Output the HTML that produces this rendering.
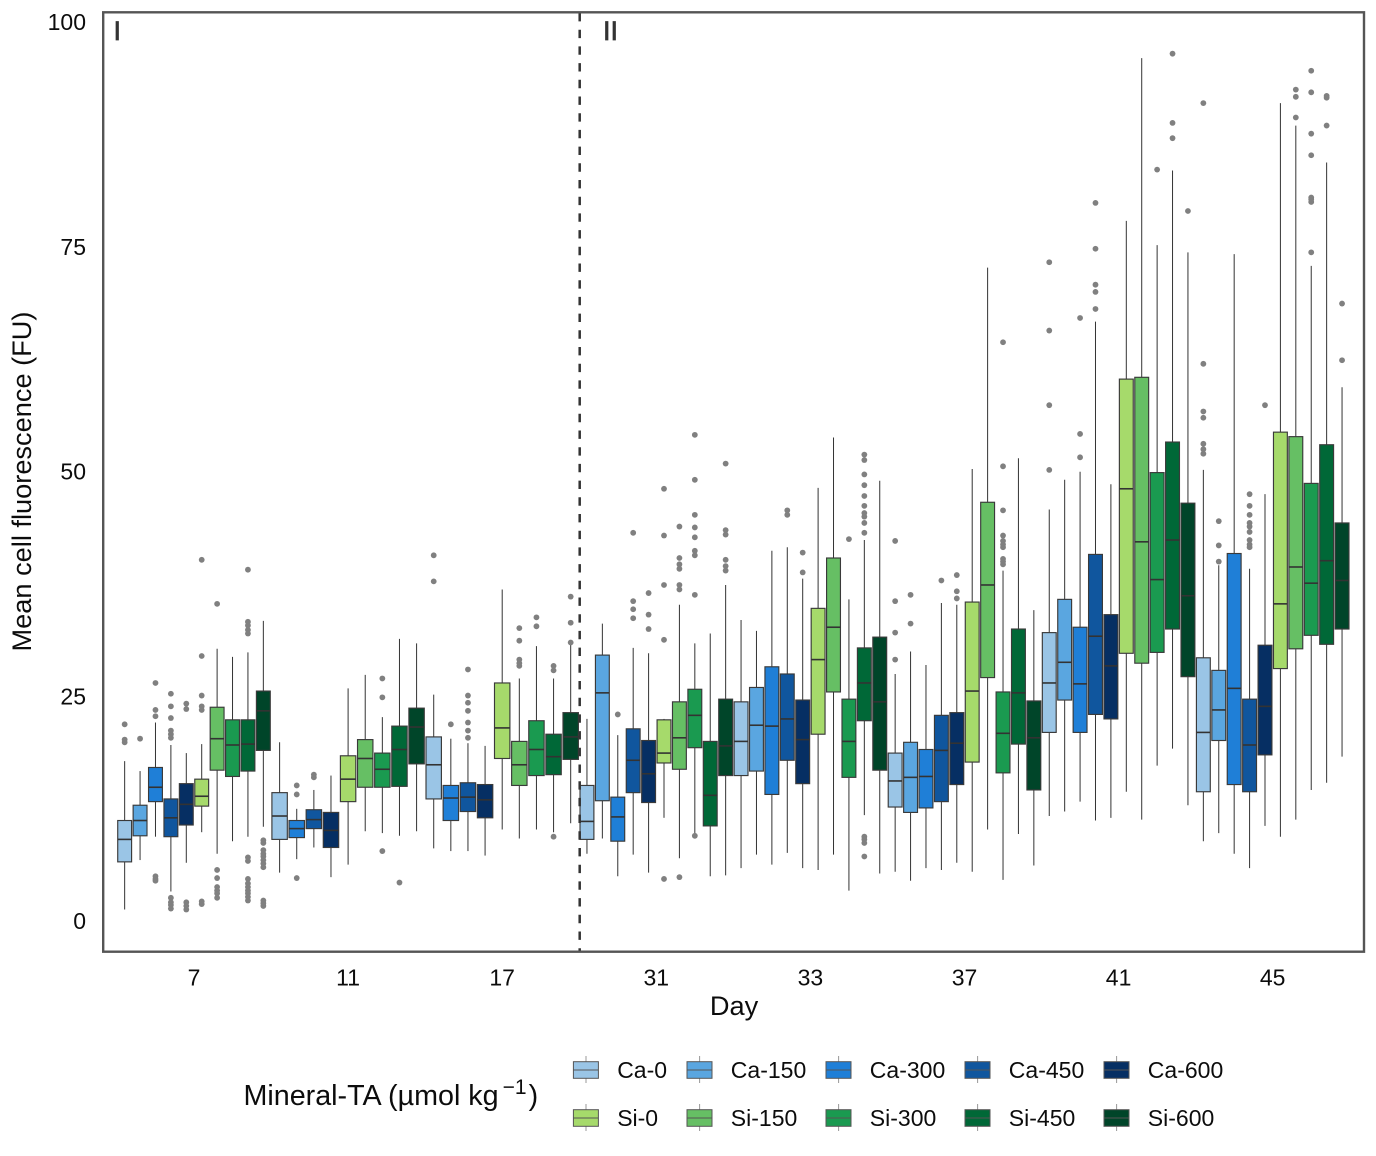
<!DOCTYPE html>
<html lang="en">
<head>
<meta charset="utf-8">
<title>Mean cell fluorescence by day and mineral-TA treatment</title>
<style>
  html, body { margin: 0; padding: 0; background: #ffffff; }
  svg { display: block; font-family: "Liberation Sans", Arial, sans-serif; }
  text { fill: #0c0c0c; }
</style>
</head>
<body>
<svg id="chart" xmlns="http://www.w3.org/2000/svg" width="1376" height="1156" viewBox="0 0 1376 1156">
  <rect x="0" y="0" width="1376" height="1156" fill="#ffffff"/>
  <g id="marks"></g>
  <line x1="579.7" y1="13" x2="579.7" y2="951" stroke="#333333" stroke-width="2.5" stroke-dasharray="8.4 8.3"/>
  <rect x="103.2" y="12.3" width="1260.8" height="939.4" fill="none" stroke="#555555" stroke-width="2.4"/>
  <text x="113.5" y="40" font-size="27" style="fill:#333333;stroke:#333333;stroke-width:0.7">I</text>
  <text x="603" y="40" font-size="27" style="fill:#333333;stroke:#333333;stroke-width:0.7">II</text>
  <g id="y-ticks"></g>
  <g id="x-ticks"></g>
  <text x="734" y="1015" font-size="27.2" text-anchor="middle">Day</text>
  <text transform="translate(31 481.5) rotate(-90)" font-size="27.2" text-anchor="middle">Mean cell fluorescence (FU)</text>
  <text x="243.5" y="1105" font-size="28.7">Mineral-TA (µmol kg<tspan dx="4" dy="-11" font-size="21">−1</tspan><tspan dx="2" dy="11">)</tspan></text>
  <g id="legend"></g>
</svg>
<script>
const categories = ["7", "11", "17", "31", "33", "37", "41", "45"];
const seriesNames = ["Ca-0", "Ca-150", "Ca-300", "Ca-450", "Ca-600", "Si-0", "Si-150", "Si-300", "Si-450", "Si-600"];
const yTickValues = [0, 25, 50, 75, 100];

const q3Values = [
  [11.2, 12.9, 17.1, 13.6, 15.3, 15.8, 23.8, 22.4, 22.4, 25.6],
  [14.3, null, 11.2, 12.4, 12.1, 18.4, 20.2, 18.7, 21.7, 23.7],
  [20.5, null, 15.1, 15.4, 15.2, 26.5, 20.0, 22.3, 20.8, 23.2],
  [15.1, 29.6, 13.8, 21.4, 20.1, 22.4, 24.4, 25.8, 20.0, 24.7],
  [24.4, 26.0, 28.3, 27.5, 24.6, 34.8, 40.4, 24.7, 30.4, 31.6],
  [18.7, 19.9, 19.1, 22.9, 23.2, 35.5, 46.6, 25.5, 32.5, 24.5],
  [32.1, 35.8, 32.7, 40.8, 34.1, 60.3, 60.5, 49.9, 53.3, 46.5],
  [29.3, 27.9, 40.9, 24.7, 30.7, 54.4, 53.9, 48.7, 53.0, 44.3]
];
const q1Values = [
  [6.6, 9.5, 13.3, 9.4, 10.7, 12.8, 16.8, 16.1, 16.7, 19.0],
  [9.1, null, 9.3, 10.3, 8.2, 13.3, 14.9, 14.9, 15.0, 17.5],
  [13.6, null, 11.2, 12.2, 11.5, 18.1, 15.1, 16.2, 16.3, 18.0],
  [9.1, 13.4, 8.9, 14.3, 13.2, 17.6, 16.9, 19.3, 10.6, 16.2],
  [16.2, 16.7, 14.1, 17.9, 15.3, 20.8, 25.5, 16.0, 22.3, 16.8],
  [12.7, 12.1, 12.6, 13.3, 15.2, 17.7, 27.1, 16.5, 19.7, 14.6],
  [21.0, 24.6, 21.0, 23.0, 22.5, 29.8, 28.7, 29.9, 32.5, 27.2],
  [14.4, 20.1, 15.2, 14.4, 18.5, 28.1, 30.3, 31.8, 30.8, 32.5]
];
const medianValues = [
  [9.1, 11.2, 14.9, 11.5, 13.0, 13.9, 20.3, 19.6, 19.7, 23.4],
  [11.7, null, 10.3, 11.3, 10.1, 15.8, 18.1, 16.9, 19.1, 21.6],
  [17.4, null, 13.7, 13.8, 13.5, 21.5, 17.4, 19.1, 18.3, 20.5],
  [11.1, 25.4, 11.6, 17.9, 16.4, 18.7, 20.4, 22.9, 14.0, 19.5],
  [20.0, 21.8, 21.7, 22.5, 20.2, 29.1, 32.7, 20.0, 26.5, 24.4],
  [15.6, 16.0, 16.1, 19.0, 19.8, 25.6, 37.4, 20.9, 25.4, 20.4],
  [26.5, 28.8, 26.4, 31.7, 28.4, 48.1, 42.2, 38.0, 42.4, 36.2],
  [21.0, 23.5, 25.9, 19.6, 23.9, 35.3, 39.4, 37.6, 40.1, 37.9]
];
const upperWhiskerValues = [
  [17.8, 16.7, 22.1, 19.6, 18.7, 19.7, 30.3, 29.4, 29.9, 33.4],
  [19.9, null, 12.5, 14.6, 16.2, 25.9, 27.4, 22.7, 31.4, 30.9],
  [25.2, null, 20.3, 19.8, 19.5, 36.9, 27.0, 30.6, 27.0, 31.0],
  [22.5, 33.1, 20.7, 30.4, 29.8, 22.5, 35.2, 30.9, 32.0, 37.4],
  [33.5, 32.3, 41.2, 41.6, 38.1, 48.2, 53.8, 35.8, 42.4, 49.0],
  [27.5, 30.0, 28.5, 35.4, 35.2, 50.3, 72.7, 39.0, 51.5, 34.6],
  [45.8, 49.1, 50.0, 66.7, 48.6, 77.9, 96.0, 75.2, 83.5, 74.4],
  [50.2, 39.6, 74.2, 39.2, 47.5, 91.0, 88.5, 72.9, 84.4, 59.4]
];
const lowerWhiskerValues = [
  [1.3, 6.8, 9.4, 3.3, 6.5, 9.9, 7.5, 8.9, 9.4, 10.5],
  [5.4, null, 6.9, 8.2, 4.9, 6.3, 10.0, 9.8, 9.5, 10.0],
  [8.1, null, 7.8, 7.8, 7.3, 10.2, 9.2, 10.2, 9.9, 10.9],
  [7.5, 9.2, 5.0, 7.4, 5.4, 11.5, 7.0, 9.8, 5.0, 5.1],
  [5.9, 7.4, 6.3, 7.6, 5.9, 5.7, 7.4, 3.4, 11.8, 5.3],
  [5.5, 4.5, 5.9, 5.7, 6.5, 5.5, 10.2, 4.6, 9.7, 6.2],
  [11.7, 12.2, 13.3, 11.2, 11.5, 14.4, 11.3, 17.3, 19.2, 12.9],
  [8.9, 9.8, 7.5, 5.9, 10.6, 9.4, 11.3, 14.6, 15.4, 18.3]
];
const outlierValues = [
  [
    [21.9, 20.2, 19.9],
    [20.3],
    [26.5, 23.5, 22.8, 5.0, 4.7, 4.5],
    [25.3, 23.9, 22.6, 21.2, 20.8, 20.4, 2.6, 2.1, 1.8, 1.4],
    [24.2, 23.6, 2.1, 1.7, 1.3],
    [40.2, 29.5, 25.1, 23.9, 23.5, 2.2, 1.9],
    [35.3, 5.7, 4.8, 3.8, 3.4, 3.1, 2.6],
    [],
    [39.1, 33.3, 32.9, 32.4, 32.0, 7.1, 6.7, 4.7, 4.2, 3.8, 3.4, 3.1, 2.7, 2.3],
    [9.0, 8.7, 7.9, 7.5, 7.2, 6.8, 6.4, 6.0, 2.3, 2.0, 1.7]
  ],
  [
    [],
    [],
    [15.1, 14.1, 4.8],
    [16.3, 16.0],
    [],
    [],
    [],
    [27.0, 24.9, 7.8],
    [4.3],
    []
  ],
  [
    [40.7, 37.8],
    [],
    [21.9],
    [28.0, 25.1, 24.3, 23.4, 22.1, 21.2, 20.4],
    [],
    [],
    [32.6, 31.2, 29.1, 28.7, 28.4],
    [33.8, 32.8],
    [28.4, 27.9, 9.4],
    [36.1, 33.2, 31.0]
  ],
  [
    [],
    [],
    [23.0],
    [43.2, 35.6, 34.7, 33.7],
    [36.5, 34.1, 32.5],
    [48.1, 42.9, 37.4, 31.3, 4.7],
    [43.9, 40.4, 39.7, 39.2, 37.4, 36.9, 4.9],
    [54.1, 49.1, 45.2, 43.8, 42.7, 41.2, 40.7, 36.3, 9.5],
    [],
    [50.9, 43.5, 43.0, 40.2, 39.5, 39.0]
  ],
  [
    [],
    [],
    [],
    [45.7, 45.2],
    [41.0, 38.8],
    [],
    [],
    [42.5],
    [51.9, 51.3, 49.7, 48.5, 47.3, 46.2, 45.4, 45.0, 44.3, 43.2, 9.4, 9.1, 8.7, 7.2],
    []
  ],
  [
    [42.3, 35.6, 32.1, 29.1],
    [36.3, 33.1],
    [],
    [37.9],
    [38.5, 36.7, 35.9],
    [],
    [],
    [64.4, 50.6, 45.7, 42.9, 42.3, 41.9, 41.6, 40.3, 40.0, 39.7],
    [],
    []
  ],
  [
    [73.3, 65.7, 57.4, 50.2],
    [],
    [67.1, 54.2, 51.6],
    [79.9, 74.8, 70.8, 70.0, 68.1],
    [],
    [],
    [],
    [83.6],
    [96.5, 88.8, 87.1],
    [79.0]
  ],
  [
    [91.0, 62.0, 56.7, 56.0, 53.1, 52.5, 52.0],
    [44.5, 41.8, 40.0],
    [],
    [47.5, 46.2, 45.2, 44.3, 43.9, 43.3, 42.4, 41.9, 41.6],
    [57.4],
    [],
    [92.5, 91.7, 89.4],
    [94.6, 92.2, 87.6, 85.2, 80.5, 80.3, 80.0, 74.4],
    [91.8, 91.6, 88.5],
    [68.7, 62.4]
  ]
];

const seriesColors = ["#9AC5E6", "#5AA6E0", "#1F7FD7", "#10569E", "#062F63", "#A6DA6B", "#66BF64", "#1A9A50", "#006837", "#004529"];
const SVG_NS = "http://www.w3.org/2000/svg";
const BAND = 154.1;
const FIRST_CENTER = 194;

function yScale(v) { return 921.2 - 8.99 * v; }
function xBand(i) { return FIRST_CENTER + i * BAND; }
function create(tag, attrs) {
  const el = document.createElementNS(SVG_NS, tag);
  for (const k in attrs) el.setAttribute(k, attrs[k]);
  return el;
}

const marks = document.getElementById("marks");
categories.forEach(function (day, d) {
  const present = [];
  seriesNames.forEach(function (name, s) {
    if (q1Values[d][s] !== null) present.push(s);
  });
  const step = BAND / present.length;
  const boxWidth = step * 0.9;
  present.forEach(function (s, pos) {
    const cx = xBand(d) + (pos - (present.length - 1) / 2) * step;
    const group = create("g", {});
    
    

    const whisker = create("line", {
      x1: cx, x2: cx,
      y1: yScale(upperWhiskerValues[d][s]), y2: yScale(lowerWhiskerValues[d][s]),
      stroke: "#333333", "stroke-width": 1
    });
    
    
    group.appendChild(whisker);

    const top = yScale(q3Values[d][s]);
    const bottom = yScale(q1Values[d][s]);
    const box = create("rect", {
      x: cx - boxWidth / 2, y: top, width: boxWidth, height: bottom - top,
      fill: seriesColors[s], stroke: "#3a3a3a", "stroke-width": 1.15
    });
    
    
    group.appendChild(box);

    const median = create("line", {
      x1: cx - boxWidth / 2, x2: cx + boxWidth / 2,
      y1: yScale(medianValues[d][s]), y2: yScale(medianValues[d][s]),
      stroke: "#333333", "stroke-width": 1.6
    });
    
    
    group.appendChild(median);

    outlierValues[d][s].forEach(function (v) {
      const dot = create("circle", { cx: cx, cy: yScale(v), r: 2.9, fill: "#808080" });
      
      
      group.appendChild(dot);
    });
    marks.appendChild(group);
  });
});

const yTicks = document.getElementById("y-ticks");
yTickValues.forEach(function (v) {
  const t = create("text", { x: 86, y: yScale(v) + 8, "font-size": 23, "text-anchor": "end" });
  
  
  t.textContent = String(v);
  yTicks.appendChild(t);
});

const xTicks = document.getElementById("x-ticks");
categories.forEach(function (day, d) {
  const t = create("text", { x: xBand(d), y: 985.5, "font-size": 23, "text-anchor": "middle" });
  
  
  t.textContent = day;
  xTicks.appendChild(t);
});

const legendColumns = [573.4, 687, 826, 965, 1104];
const legendRows = [1070, 1118];
const legend = document.getElementById("legend");
seriesNames.forEach(function (name, s) {
  const lx = legendColumns[s % 5];
  const ly = legendRows[Math.floor(s / 5)];
  const entry = create("g", {});
  
  

  const stem = create("line", { x1: lx + 12.6, x2: lx + 12.6, y1: ly - 14, y2: ly + 13, stroke: "#555555", "stroke-width": 1, opacity: 0.6 });
  
  
  entry.appendChild(stem);

  const key = create("rect", { x: lx, y: ly - 8.3, width: 25, height: 16.6, fill: seriesColors[s], stroke: "#555555", "stroke-width": 1 });
  
  
  entry.appendChild(key);

  const mid = create("line", { x1: lx, x2: lx + 25, y1: ly, y2: ly, stroke: "#555555", "stroke-width": 1 });
  
  
  entry.appendChild(mid);

  const label = create("text", { x: lx + 43.8, y: ly + 8, "font-size": 23 });
  
  
  label.textContent = name;
  entry.appendChild(label);

  legend.appendChild(entry);
});
</script>
</body>
</html>
